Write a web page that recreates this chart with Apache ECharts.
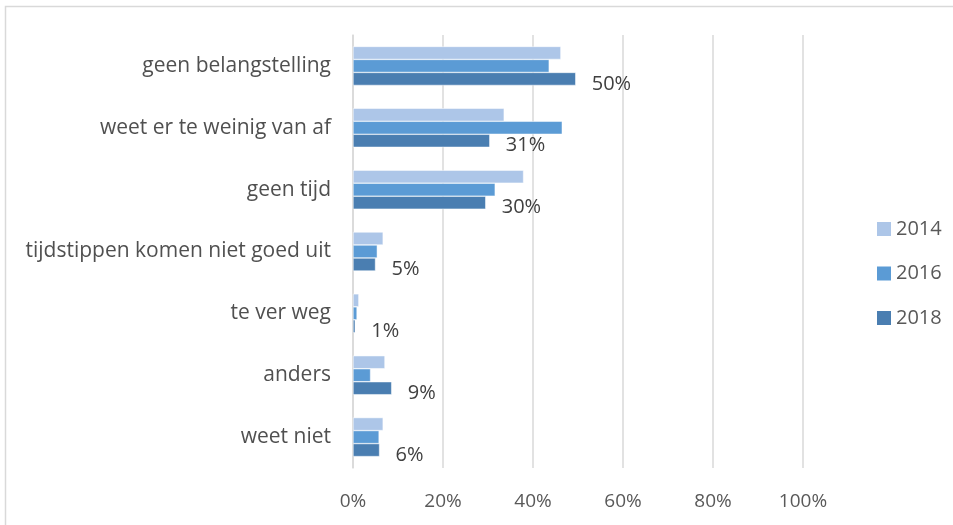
<!DOCTYPE html>
<html>
<head>
<meta charset="utf-8">
<script src="https://cdn.jsdelivr.net/npm/echarts@6/dist/echarts.min.js"></script>
<style>
  html, body { margin: 0; padding: 0; background: #fff; }
  #chart { width: 953px; height: 525px; }
</style>
</head>
<body>
<div id="chart"></div>
<script>
// categorieën en waarden (procenten)
const categories = ['geen belangstelling', 'weet er te weinig van af', 'geen tijd',
  'tijdstippen komen niet goed uit', 'te ver weg', 'anders', 'weet niet']
const years = ['2014', '2016', '2018']
const values2014 = [46.2, 33.6, 37.9, 6.7, 1.3, 7.1, 6.7]
const values2016 = [43.6, 46.5, 31.6, 5.4, 0.9, 3.9, 5.8]
const values2018 = [49.5, 30.4, 29.5, 5.0, 0.5, 8.6, 5.9]
const labels2018 = ['50%', '31%', '30%', '5%', '1%', '9%', '6%']
const xTicks = [0, 20, 40, 60, 80, 100]

const colors = ['#adc6e8', '#5b9bd5', '#4a7eb1']
const font = 'Open Sans'

let chart = echarts.init(document.getElementById('chart'))

let option = {
  animation: false,
  color: colors,
  textStyle: { fontFamily: font },
  graphic: [
    {
      // rand van het grafiekvlak
      type: 'rect',
      shape: { x: 5.5, y: 6.5, width: 1000, height: 600 },
      style: { fill: 'none', stroke: '#d9d9d9', lineWidth: 1.5 }
    }
  ],
  legend: {
    orient: 'vertical',
    left: 872,
    top: 214,
    itemWidth: 14,
    itemHeight: 14,
    itemGap: 24.5,
    icon: 'rect',
    data: years,
    itemStyle: { borderWidth: 0 },
    textStyle: { fontSize: 20, lineHeight: 20, color: '#595959', fontFamily: font }
  },
  grid: {
    left: 353,
    right: 150,
    top: 35,
    bottom: 57
  },
  xAxis: {
    type: 'value',
    min: 0,
    max: 100,
    interval: 20,
    axisLine: { show: false },
    axisTick: { show: false },
    splitLine: { lineStyle: { color: '#d9d9d9', width: 1.5 } },
    axisLabel: {
      margin: 24,
      fontSize: 19,
      color: '#595959',
      formatter: v => (xTicks.indexOf(v) >= 0 ? v + '%' : '')
    }
  },
  yAxis: {
    type: 'category',
    inverse: true,
    data: categories,
    axisLine: { show: true, lineStyle: { color: '#d9d9d9', width: 1.5 } },
    axisTick: { show: false },
    axisLabel: { margin: 22, fontSize: 21, color: '#505050' }
  },
  series: [
    {
      name: years[0],
      type: 'bar',
      barWidth: 13,
      barGap: '0%',
      data: values2014,
      itemStyle: { borderColor: '#fff', borderWidth: 0.5 }
    },
    {
      name: years[1],
      type: 'bar',
      barWidth: 13,
      barGap: '0%',
      data: values2016,
      itemStyle: { borderColor: '#fff', borderWidth: 0.5 }
    },
    {
      name: years[2],
      type: 'bar',
      barWidth: 13,
      barGap: '0%',
      data: values2018,
      itemStyle: { borderColor: '#fff', borderWidth: 0.5 },
      label: {
        show: true,
        position: 'right',
        distance: 16,
        offset: [0, 5],
        fontSize: 20,
        color: '#404040',
        formatter: p => labels2018[p.dataIndex]
      }
    }
  ]
}

chart.setOption(option)
</script>
</body>
</html>
